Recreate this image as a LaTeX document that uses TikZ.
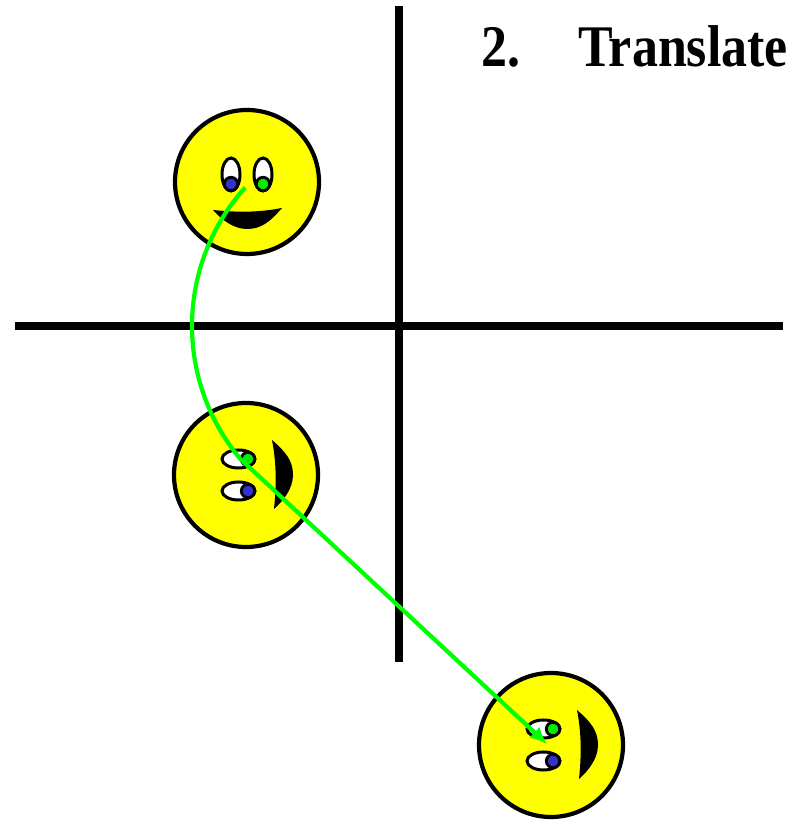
\documentclass[tikz,border=0pt]{standalone}
\usepackage{fontspec}
\setmainfont{Liberation Serif}
\usetikzlibrary{arrows.meta,calc}

\definecolor{faceyellow}{HTML}{FFFF00}
\definecolor{pupilblue}{HTML}{3333CC}
\definecolor{pupilgreen}{HTML}{00EE00}
\definecolor{pathgreen}{HTML}{00FF00}

\tikzset{
  axis/.style={line width=8pt},
  facedisc/.style={draw=black, line width=4.2pt, fill=faceyellow},
  eyewhite/.style={draw=black, line width=3pt, fill=white},
  pupil/.style={draw=black, line width=2.8pt},
  motion/.style={draw=pathgreen, line width=4.2pt},
  smiley/.pic={
    \path[facedisc] (0,0) circle[radius=72];
    \path[eyewhite] (-16,7.5) ellipse[x radius=9, y radius=16.5];
    \path[eyewhite] (16,7.5) ellipse[x radius=9, y radius=16.5];
    \path[pupil, fill=pupilblue] (-16,-2) circle[radius=6.7];
    \path[pupil, fill=pupilgreen] (16,-2) circle[radius=6.7];
    \fill[black] (-34,-28) .. controls (-10,-30.5) and (12,-30.5) .. (35,-26)
      .. controls (23,-40) and (14,-47) .. (0,-47)
      .. controls (-14,-47) and (-26,-37) .. cycle;
  }
}

\begin{document}
\begin{tikzpicture}[x=1pt, y=1pt]
  \useasboundingbox (0,0) rectangle (790,821);

  % coordinate axes
  \coordinate (O) at (399,495);
  \coordinate (xl) at (15,495);
  \coordinate (xr) at (783,495);
  \coordinate (yt) at (399,815);
  \coordinate (yb) at (399,159);
  \draw[axis] (xl) -- (xr);
  \draw[axis] (yt) -- (yb);

  % the three faces: original, rotated, rotated and translated
  \coordinate (f1) at (247,639);
  \coordinate (f2) at (246,346);
  \coordinate (f3) at (551,76);
  \pic at (f1) {smiley};
  \pic[rotate=90] at (f2) {smiley};
  \pic[rotate=90] at (f3) {smiley};

  % path of the motion: rotation about the origin, then translation
  \coordinate (arcstart) at ($(O)+(138:207)$);
  \coordinate (tip) at (547,77);
  \draw[motion, -{Latex[length=17pt, width=15pt]}]
    (arcstart) arc[start angle=138, end angle=220, radius=207] -- (tip);

  % title
  \node[anchor=base west, inner sep=0pt] (num) at (481,754)
    {\fontsize{59}{60}\selectfont\bfseries\scalebox{0.88}[1]{2.}};
  \node[anchor=base west, inner sep=0pt] (title) at (578,754)
    {\fontsize{59}{60}\selectfont\bfseries\scalebox{0.88}[1]{Translate}};
\end{tikzpicture}
\end{document}
